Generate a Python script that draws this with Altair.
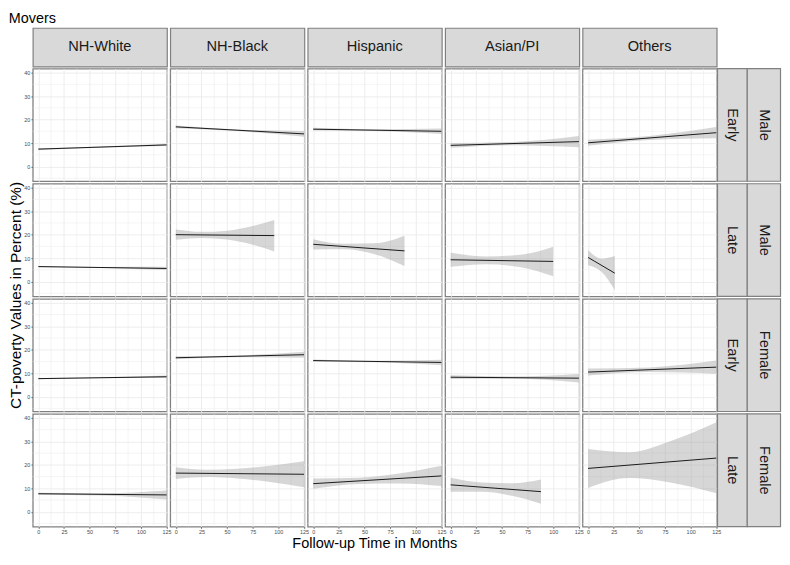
import altair as alt
import pandas as pd

TITLE = "Movers"
RACES = ["NH-White", "NH-Black", "Hispanic", "Asian/PI", "Others"]
COHORTS = ["Early", "Late", "Early", "Late"]
SEXES = ["Male", "Male", "Female", "Female"]
X_TICKS = [0, 25, 50, 75, 100, 125]
Y_TICKS = [0, 10, 20, 30, 40]
MINOR_X = [12.5, 37.5, 62.5, 87.5, 112.5]
MINOR_Y = [-5, 5, 15, 25, 35]
X_DOMAIN = [-5.4, 125.4]
Y_DOMAIN = [-6.3, 41.7]
X_TITLE = "Follow-up Time in Months"
Y_TITLE = "CT-poverty Values in Percent (%)"

# ---- Early / Male ----
em_nhw_x = [0, 60, 125]; em_nhw_fit = [7.4, 9.2]; em_nhw_lo = [7.0, 8.0, 8.7]; em_nhw_hi = [7.8, 8.55, 9.7]
em_nhb_x = [0, 60, 125]; em_nhb_fit = [16.9, 13.9]; em_nhb_lo = [16.3, 15.1, 12.7]; em_nhb_hi = [17.5, 15.8, 15.1]
em_his_x = [0, 60, 125]; em_his_fit = [15.9, 15.0]; em_his_lo = [15.3, 15.1, 13.8]; em_his_hi = [16.5, 15.85, 16.2]
em_asi_x = [0, 60, 125]; em_asi_fit = [9.0, 10.6]; em_asi_lo = [8.0, 9.1, 8.2]; em_asi_hi = [10.0, 10.45, 13.0]
em_oth_x = [0, 60, 125]; em_oth_fit = [10.1, 14.4]; em_oth_lo = [8.8, 11.3, 12.0]; em_oth_hi = [11.4, 13.0, 16.8]

# ---- Late / Male ----
lm_nhw_x = [0, 60, 125]; lm_nhw_fit = [6.4, 5.6]; lm_nhw_lo = [6.1, 5.8, 4.9]; lm_nhw_hi = [6.7, 6.25, 6.3]
lm_nhb_x = [0, 25, 50, 75, 96]; lm_nhb_fit = [20.0, 19.6]; lm_nhb_lo = [17.8, 18.6, 17.9, 15.7, 12.8]; lm_nhb_hi = [22.2, 21.2, 21.7, 23.7, 26.3]
lm_his_x = [0, 30, 60, 89]; lm_his_fit = [15.9, 13.1]; lm_his_lo = [13.7, 13.8, 11.7, 6.7]; lm_his_hi = [18.1, 16.1, 16.3, 19.5]
lm_asi_x = [0, 35, 70, 100]; lm_asi_fit = [9.3, 8.6]; lm_asi_lo = [6.3, 7.4, 6.0, 2.3]; lm_asi_hi = [12.3, 10.7, 11.6, 14.9]
lm_oth_x = [0, 13, 26]; lm_oth_fit = [10.3, 3.6]; lm_oth_lo = [7.0, 4.15, -3.6]; lm_oth_hi = [13.5, 9.75, 10.9]

# ---- Early / Female ----
ef_nhw_x = [0, 60, 125]; ef_nhw_fit = [7.7, 8.5]; ef_nhw_lo = [7.4, 7.9, 8.0]; ef_nhw_hi = [8.0, 8.3, 9.0]
ef_nhb_x = [0, 60, 125]; ef_nhb_fit = [16.6, 17.9]; ef_nhb_lo = [16.0, 16.85, 16.6]; ef_nhb_hi = [17.2, 17.6, 19.2]
ef_his_x = [0, 60, 125]; ef_his_fit = [15.4, 14.6]; ef_his_lo = [14.9, 14.7, 13.4]; ef_his_hi = [15.9, 15.35, 15.8]
ef_asi_x = [0, 60, 125]; ef_asi_fit = [8.3, 7.9]; ef_asi_lo = [7.5, 7.6, 6.1]; ef_asi_hi = [9.1, 8.6, 9.7]
ef_oth_x = [0, 60, 125]; ef_oth_fit = [10.5, 12.6]; ef_oth_lo = [9.0, 10.5, 9.8]; ef_oth_hi = [12.0, 12.5, 15.4]

# ---- Late / Female ----
lf_nhw_x = [0, 60, 125]; lf_nhw_fit = [7.7, 7.2]; lf_nhw_lo = [7.3, 7.0, 5.3]; lf_nhw_hi = [8.1, 7.9, 9.1]
lf_nhb_x = [0, 30, 60, 90, 125]; lf_nhb_fit = [16.5, 16.0]; lf_nhb_lo = [14.0, 14.8, 14.2, 12.8, 10.5]; lf_nhb_hi = [19.0, 17.9, 18.3, 19.5, 21.5]
lf_his_x = [0, 45, 85, 125]; lf_his_fit = [12.0, 15.3]; lf_his_lo = [9.8, 11.9, 12.1, 11.0]; lf_his_hi = [14.2, 14.5, 16.4, 19.6]
lf_asi_x = [0, 30, 60, 88]; lf_asi_fit = [11.5, 8.6]; lf_asi_lo = [8.5, 8.5, 6.8, 3.4]; lf_asi_hi = [14.5, 12.5, 12.2, 13.8]
lf_oth_x = [0, 40, 80, 125]; lf_oth_fit = [18.5, 22.9]; lf_oth_lo = [10.2, 14.4, 12.5, 7.9]; lf_oth_hi = [26.8, 25.4, 30.1, 38.2]

PANELS = [
    [(em_nhw_x, em_nhw_fit, em_nhw_lo, em_nhw_hi), (em_nhb_x, em_nhb_fit, em_nhb_lo, em_nhb_hi),
     (em_his_x, em_his_fit, em_his_lo, em_his_hi), (em_asi_x, em_asi_fit, em_asi_lo, em_asi_hi),
     (em_oth_x, em_oth_fit, em_oth_lo, em_oth_hi)],
    [(lm_nhw_x, lm_nhw_fit, lm_nhw_lo, lm_nhw_hi), (lm_nhb_x, lm_nhb_fit, lm_nhb_lo, lm_nhb_hi),
     (lm_his_x, lm_his_fit, lm_his_lo, lm_his_hi), (lm_asi_x, lm_asi_fit, lm_asi_lo, lm_asi_hi),
     (lm_oth_x, lm_oth_fit, lm_oth_lo, lm_oth_hi)],
    [(ef_nhw_x, ef_nhw_fit, ef_nhw_lo, ef_nhw_hi), (ef_nhb_x, ef_nhb_fit, ef_nhb_lo, ef_nhb_hi),
     (ef_his_x, ef_his_fit, ef_his_lo, ef_his_hi), (ef_asi_x, ef_asi_fit, ef_asi_lo, ef_asi_hi),
     (ef_oth_x, ef_oth_fit, ef_oth_lo, ef_oth_hi)],
    [(lf_nhw_x, lf_nhw_fit, lf_nhw_lo, lf_nhw_hi), (lf_nhb_x, lf_nhb_fit, lf_nhb_lo, lf_nhb_hi),
     (lf_his_x, lf_his_fit, lf_his_lo, lf_his_hi), (lf_asi_x, lf_asi_fit, lf_asi_lo, lf_asi_hi),
     (lf_oth_x, lf_oth_fit, lf_oth_lo, lf_oth_hi)],
]

FONT = "Liberation Sans"
GRID = "#ebebeb"
BORDER = "#808080"
STRIP_FILL = "#d9d9d9"
PW, PH = 135.2, 113.5
HEAD_H = 39
COL_SP, ROW_SP = 2.5, 2
SA0, SA1, SB1 = -2.5, 27.5, 61.0   # right-hand strip edges relative to their cell
YT_FS = 15.5

XS = alt.Scale(domain=X_DOMAIN, nice=False, zero=False)
YS = alt.Scale(domain=Y_DOMAIN, nice=False, zero=False)


def label_chart(text, size, angle, x, y, color="black", align="center", baseline="middle"):
    return alt.Chart(pd.DataFrame({"t": [text]})).mark_text(
        font=FONT, fontSize=size, color=color, angle=angle, align=align, baseline=baseline
    ).encode(text="t:N", x=alt.value(x), y=alt.value(y))


def panel(spec, show_x, show_y, extra=None):
    xs, fit, lo, hi = spec
    rib = pd.DataFrame({"x": xs, "lo": lo, "hi": hi})
    ln = pd.DataFrame({"x": [xs[0], xs[-1]], "y": fit})
    xaxis = alt.Axis(values=X_TICKS, labels=show_x, ticks=show_x, grid=True,
                     labelFlush=False, labelOverlap=False)
    yaxis = alt.Axis(values=Y_TICKS, labels=show_y, ticks=show_y, grid=True,
                     labelFlush=False, labelOverlap=False)
    mx = alt.Chart(pd.DataFrame({"v": MINOR_X})).mark_rule(color=GRID, strokeWidth=0.5).encode(
        x=alt.X("v:Q", scale=XS, axis=xaxis, title=None))
    my = alt.Chart(pd.DataFrame({"v": MINOR_Y})).mark_rule(color=GRID, strokeWidth=0.5).encode(
        y=alt.Y("v:Q", scale=YS, axis=yaxis, title=None))
    area = alt.Chart(rib).mark_area(color="#999999", opacity=0.4, interpolate="monotone").encode(
        x=alt.X("x:Q", scale=XS, axis=xaxis, title=None),
        y=alt.Y("lo:Q", scale=YS, axis=yaxis, title=None),
        y2="hi:Q")
    line = alt.Chart(ln).mark_line(color="#1a1a1a", strokeWidth=1).encode(
        x=alt.X("x:Q", scale=XS, axis=xaxis, title=None),
        y=alt.Y("y:Q", scale=YS, axis=yaxis, title=None))
    layers = [mx, my, area, line] + (extra or [])
    return alt.layer(*layers).properties(
        width=PW, height=PH,
        view=alt.ViewBackground(stroke=BORDER, strokeWidth=1.3, fill="white"))


def head_strip(label, extra=None):
    txt = label_chart(label, 14.7, 0, PW / 2, HEAD_H / 2, "#1a1a1a")
    return alt.layer(txt, *(extra or [])).properties(
        width=PW, height=HEAD_H,
        view=alt.ViewBackground(fill=STRIP_FILL, stroke=BORDER, strokeWidth=1.2))


def side_strips(cohort, sex):
    one = pd.DataFrame({"a": [0]})
    ra = alt.Chart(one).mark_rect(fill=STRIP_FILL, stroke=BORDER, strokeWidth=1.2).encode(
        x=alt.value(SA0), x2=alt.value(SA1), y=alt.value(0), y2=alt.value(PH))
    rb = alt.Chart(one).mark_rect(fill=STRIP_FILL, stroke=BORDER, strokeWidth=1.2).encode(
        x=alt.value(SA1), x2=alt.value(SB1), y=alt.value(0), y2=alt.value(PH))
    ta = label_chart(cohort, 14.7, 90, (SA0 + SA1) / 2, PH / 2, "#1a1a1a")
    tb = label_chart(sex, 14.7, 90, (SA1 + SB1) / 2, PH / 2, "#1a1a1a")
    return alt.layer(ra, rb, ta, tb).properties(width=SB1, height=PH)


def blank(w, h):
    return alt.Chart(pd.DataFrame({"a": [0]})).mark_point(opacity=0).encode(
        x=alt.value(0), y=alt.value(0)).properties(width=w, height=h)


# y-title centre sits left of the first panel; its box then starts at the page margin
YT_X = -16.5
title_txt = label_chart(TITLE, 14.5, 0, YT_X - YT_FS / 2, -16, "black", align="left", baseline="top")

cells = [head_strip(RACES[0], [title_txt])] + [head_strip(r) for r in RACES[1:]] + [blank(SB1, HEAD_H)]
for r in range(4):
    for c in range(5):
        extra = None
        if r == 1 and c == 0:
            extra = [label_chart(Y_TITLE, YT_FS, 270, YT_X, PH - 1)]
        if r == 3 and c == 2:
            extra = [label_chart(X_TITLE, 14.6, 0, PW / 2, PH + 18)]
        cells.append(panel(PANELS[r][c], show_x=(r == 3), show_y=(c == 0), extra=extra))
    cells.append(side_strips(COHORTS[r], SEXES[r]))

chart = alt.concat(
    *cells, columns=6, spacing={"row": ROW_SP, "column": COL_SP}, bounds="flush", align="each"
).properties(padding=0).configure_view(stroke="transparent").configure_axis(
    labelFont=FONT, labelFontSize=5.5, labelColor="#4d4d4d", tickColor="#333333",
    tickSize=2, tickWidth=0.6, labelPadding=1, domain=False, gridColor=GRID, gridWidth=0.9,
)

chart.save("out.html", embed_options={"renderer": "svg", "actions": False})
